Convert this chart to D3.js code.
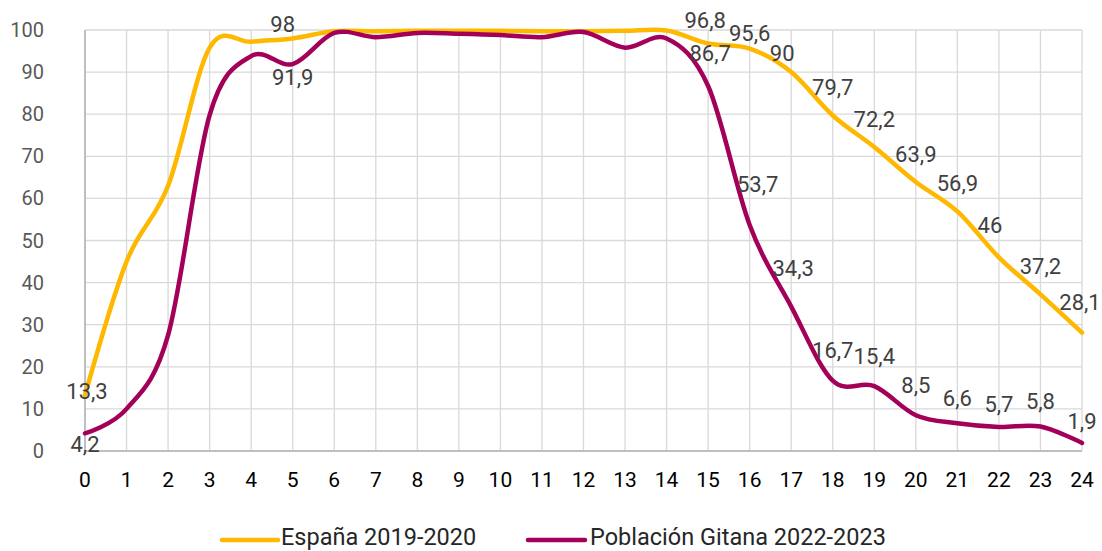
<!DOCTYPE html>
<html>
<head>
<meta charset="utf-8">
<script src="https://cdn.jsdelivr.net/npm/d3@7/dist/d3.min.js"></script>
<style>
  body { margin: 0; background: #fff; }
  svg text { font-family: Roboto, "Noto Sans", sans-serif; }
</style>
</head>
<body>
<div id="chart"></div>
<script>
// ages 0..24
var ages = d3.range(0, 25);
var yTicks = [0, 10, 20, 30, 40, 50, 60, 70, 80, 90, 100];

var espana = [13.3, 45, 63, 95.8, 97.2, 98, 99.7, 99.7, 99.8, 99.8, 99.8, 99.7, 99.7,
              99.8, 99.9, 96.8, 95.6, 90, 79.7, 72.2, 63.9, 56.9, 46, 37.2, 28.1];
var gitana = [4.2, 10, 27.5, 79.8, 93.8, 91.9, 99.3, 98.3, 99.3, 99.1, 98.8, 98.3, 99.5,
              95.8, 98, 86.7, 53.7, 34.3, 16.7, 15.4, 8.5, 6.6, 5.7, 5.8, 1.9];

var seriesNames = ['España 2019-2020', 'Población Gitana 2022-2023'];
var seriesColors = ['#FFB800', '#A3005A'];

// which points carry a value label
var labelled = [0, 5, 15, 16, 17, 18, 19, 20, 21, 22, 23, 24];

var width = 1102, height = 551;
var x = d3.scaleLinear().domain([0, 24]).range([85, 1082]);
var y = d3.scaleLinear().domain([0, 100]).range([451, 30]);

var svg = d3.select('#chart').append('svg')
    .attr('width', width)
    .attr('height', height);

// grid
svg.append('g').selectAll('line.h').data(yTicks.slice(1)).enter()
    .append('line')
    .attr('x1', x(0)).attr('x2', x(24))
    .attr('y1', function(d) { return y(d); })
    .attr('y2', function(d) { return y(d); })
    .attr('stroke', '#d9d9d9').attr('stroke-width', 1.3);

svg.append('g').selectAll('line.v').data(ages.slice(1)).enter()
    .append('line')
    .attr('x1', function(d) { return x(d); })
    .attr('x2', function(d) { return x(d); })
    .attr('y1', y(0)).attr('y2', y(100))
    .attr('stroke', '#d9d9d9').attr('stroke-width', 1.3);

// axis lines
svg.append('line')
    .attr('x1', x(0)).attr('x2', x(0)).attr('y1', y(0)).attr('y2', y(100))
    .attr('stroke', '#bfbfbf').attr('stroke-width', 2);
svg.append('line')
    .attr('x1', x(0)).attr('x2', x(24)).attr('y1', y(0)).attr('y2', y(0))
    .attr('stroke', '#bfbfbf').attr('stroke-width', 2);

// tick labels
svg.append('g').selectAll('text').data(yTicks).enter()
    .append('text')
    .attr('x', 44)
    .attr('y', function(d) { return y(d); })
    .attr('dy', '0.35em')
    .attr('text-anchor', 'end')
    .attr('font-size', 20)
    .attr('fill', '#595959')
    .text(function(d) { return d; });

svg.append('g').selectAll('text').data(ages).enter()
    .append('text')
    .attr('x', function(d) { return x(d); })
    .attr('y', 487)
    .attr('text-anchor', 'middle')
    .attr('font-size', 21)
    .attr('fill', '#000')
    .text(function(d) { return d; });

// lines
var line = d3.line()
    .x(function(d, i) { return x(i); })
    .y(function(d) { return y(d); })
    .curve(d3.curveCatmullRom.alpha(0));

[espana, gitana].forEach(function(s, k) {
    svg.append('path')
        .attr('d', line(s))
        .attr('fill', 'none')
        .attr('stroke', seriesColors[k])
        .attr('stroke-width', 4.5)
        .attr('stroke-linejoin', 'round')
        .attr('stroke-linecap', 'round');
});

// data labels (nudges roughly follow the manual placement in the source)
var nudgeEs = {0: [2, -4], 5: [-10, -14], 15: [-3, -23], 16: [0, -15], 17: [-9, -19],
               22: [-9, -32], 24: [-2, -30]};
var nudgeGi = {0: [0, 11], 5: [0, 13], 15: [2, -33], 16: [8, -41], 17: [2, -38],
               21: [0, -25], 22: [0, -23], 23: [0, -25], 24: [0, -22]};

function fmt(v) { return String(v).replace('.', ','); }

[[espana, nudgeEs, -28], [gitana, nudgeGi, -30]].forEach(function(c) {
    var s = c[0], nudge = c[1], def = c[2];
    svg.append('g').selectAll('text').data(labelled).enter()
        .append('text')
        .attr('x', function(i) { return x(i) + (nudge[i] ? nudge[i][0] : 0); })
        .attr('y', function(i) { return y(s[i]) + (nudge[i] ? nudge[i][1] : def); })
        .attr('dy', '0.35em')
        .attr('text-anchor', 'middle')
        .attr('font-size', 22)
        .attr('fill', '#404040')
        .text(function(i) { return fmt(s[i]); });
});

// legend
var legend = [[222, 278, 281], [528, 585, 590]];
legend.forEach(function(p, k) {
    svg.append('line')
        .attr('x1', p[0]).attr('x2', p[1]).attr('y1', 540).attr('y2', 540)
        .attr('stroke', seriesColors[k]).attr('stroke-width', 4.5)
        .attr('stroke-linecap', 'round');
    svg.append('text')
        .attr('x', p[2]).attr('y', 545)
        .attr('font-size', 23.5)
        .attr('fill', '#262626')
        .text(seriesNames[k]);
});
</script>
</body>
</html>
